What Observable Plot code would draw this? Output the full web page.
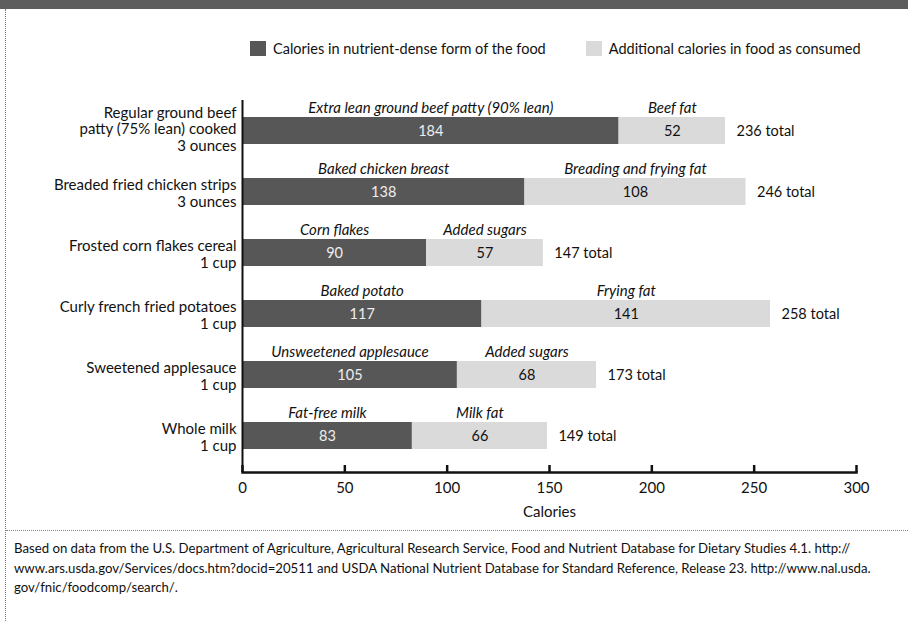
<!DOCTYPE html>
<html>
<head>
<meta charset="utf-8">
<script src="https://cdn.jsdelivr.net/npm/d3@7"></script>
<script src="https://cdn.jsdelivr.net/npm/@observablehq/plot@0.6"></script>
<style>
  html, body { margin: 0; padding: 0; background: #fff; }
  body { width: 908px; height: 621px; position: relative; overflow: hidden; font-family: Lato, "Open Sans", sans-serif; color: #111; }
  #band { position: absolute; left: 0; top: 0; width: 908px; height: 9px; background: #5e5e5e; }
  #vline { position: absolute; left: 5px; top: 9px; height: 612px; border-left: 1.5px dotted #777; }
  #hline { position: absolute; left: 6px; top: 530px; width: 902px; border-top: 1.5px dotted #888; }
  #legend { position: absolute; top: 40px; left: 250px; font-size: 14.5px; display: flex; align-items: center; white-space: nowrap; }
  .sw { width: 16px; height: 15px; display: inline-block; margin-right: 7px; }
  .item { display: flex; align-items: center; }
  #chart { position: absolute; left: 0; top: 62px; }
  #caption { position: absolute; left: 14px; top: 539px; font-size: 13.2px; line-height: 19.5px; color: #111; white-space: nowrap; }
</style>
</head>
<body>
<div id="band"></div>
<div id="vline"></div>
<div id="legend"></div>
<div id="chart"></div>
<div id="hline"></div>
<div id="caption"></div>
<script>
const foods = ["Regular ground beef patty (75% lean) cooked", "Breaded fried chicken strips", "Frosted corn flakes cereal", "Curly french fried potatoes", "Sweetened applesauce", "Whole milk"];
const foodLabels = ["Regular ground beef\npatty (75% lean) cooked\n3 ounces", "Breaded fried chicken strips\n3 ounces", "Frosted corn flakes cereal\n1 cup", "Curly french fried potatoes\n1 cup", "Sweetened applesauce\n1 cup", "Whole milk\n1 cup"];
const denseNames = ["Extra lean ground beef patty (90% lean)", "Baked chicken breast", "Corn flakes", "Baked potato", "Unsweetened applesauce", "Fat-free milk"];
const denseCalories = [184, 138, 90, 117, 105, 83];
const addedNames = ["Beef fat", "Breading and frying fat", "Added sugars", "Frying fat", "Added sugars", "Milk fat"];
const addedCalories = [52, 108, 57, 141, 68, 66];
const totalCalories = [236, 246, 147, 258, 173, 149];
const xTicks = [0, 50, 100, 150, 200, 250, 300];
const seriesNames = ["Calories in nutrient-dense form of the food", "Additional calories in food as consumed"];
const seriesColors = ["#575757", "#dadada"];
const captionLines = [
  "Based on data from the U.S. Department of Agriculture, Agricultural Research Service, Food and Nutrient Database for Dietary Studies 4.1. http://",
  "www.ars.usda.gov/Services/docs.htm?docid=20511 and USDA National Nutrient Database for Standard Reference, Release 23. http://www.nal.usda.",
  "gov/fnic/foodcomp/search/."
];

const rows = foods.map((f, i) => ({
  food: f,
  label: foodLabels[i],
  denseName: denseNames[i],
  dense: denseCalories[i],
  addedName: addedNames[i],
  added: addedCalories[i],
  total: totalCalories[i]
}));

// legend
const legend = document.getElementById("legend");
seriesNames.forEach((name, i) => {
  const it = document.createElement("span");
  it.className = "item";
  if (i > 0) it.style.marginLeft = "40px";
  const sw = document.createElement("span");
  sw.className = "sw";
  sw.style.background = seriesColors[i];
  it.appendChild(sw);
  it.appendChild(document.createTextNode(name));
  legend.appendChild(it);
});

document.getElementById("caption").innerHTML = captionLines.join("<br>");

const chart = Plot.plot({
  width: 908,
  height: 470,
  marginLeft: 242,
  marginRight: 52,
  marginTop: 38,
  marginBottom: 60,
  style: { fontFamily: "Lato, 'Open Sans', sans-serif", fontSize: "15px", color: "#111" },
  x: { domain: [0, 300] },
  y: { domain: foods, range: [35, 406], paddingInner: 0.563, paddingOuter: 0.2815, axis: null },
  marks: [
    Plot.barX(rows, { y: "food", x1: 0, x2: "dense", fill: seriesColors[0] }),
    Plot.barX(rows, { y: "food", x1: "dense", x2: "total", fill: seriesColors[1] }),
    Plot.ruleX([0], { stroke: "#111", strokeWidth: 2 }),
    Plot.frame({ anchor: "bottom", stroke: "#111", strokeWidth: 2.5 }),
    Plot.axisX({ ticks: xTicks, tickSize: -7, tickFormat: () => "", strokeWidth: 2.5, label: null }),
    Plot.axisX({ ticks: xTicks, tickSize: 0, tickPadding: 10, fontSize: 15, label: "Calories", labelAnchor: "center", labelArrow: "none", labelOffset: 44 }),
    Plot.text(rows.filter((d, i) => i === 0), { y: "food", x: 0, text: "label", textAnchor: "end", dx: -6, dy: -2, lineHeight: 1.1, fontSize: 15 }),
    Plot.text(rows.filter((d, i) => i > 0), { y: "food", x: 0, text: "label", textAnchor: "end", dx: -6, dy: 1, lineHeight: 1.1, fontSize: 15 }),
    Plot.text(rows, { y: "food", x: d => d.dense / 2, text: "denseName", dy: -23, fontStyle: "italic", fontSize: 15 }),
    Plot.text(rows, { y: "food", x: d => d.dense + d.added / 2, text: "addedName", dy: -23, fontStyle: "italic", fontSize: 15 }),
    Plot.text(rows, { y: "food", x: d => d.dense / 2, text: "dense", fill: "#eeeeee", fontSize: 14.5 }),
    Plot.text(rows, { y: "food", x: d => d.dense + d.added / 2, text: "added", fill: "#111", fontSize: 14.5 }),
    Plot.text(rows, { y: "food", x: "total", text: d => `${d.total} total`, textAnchor: "start", dx: 11, fontSize: 14.5 })
  ]
});
document.getElementById("chart").appendChild(chart);
</script>
</body>
</html>
